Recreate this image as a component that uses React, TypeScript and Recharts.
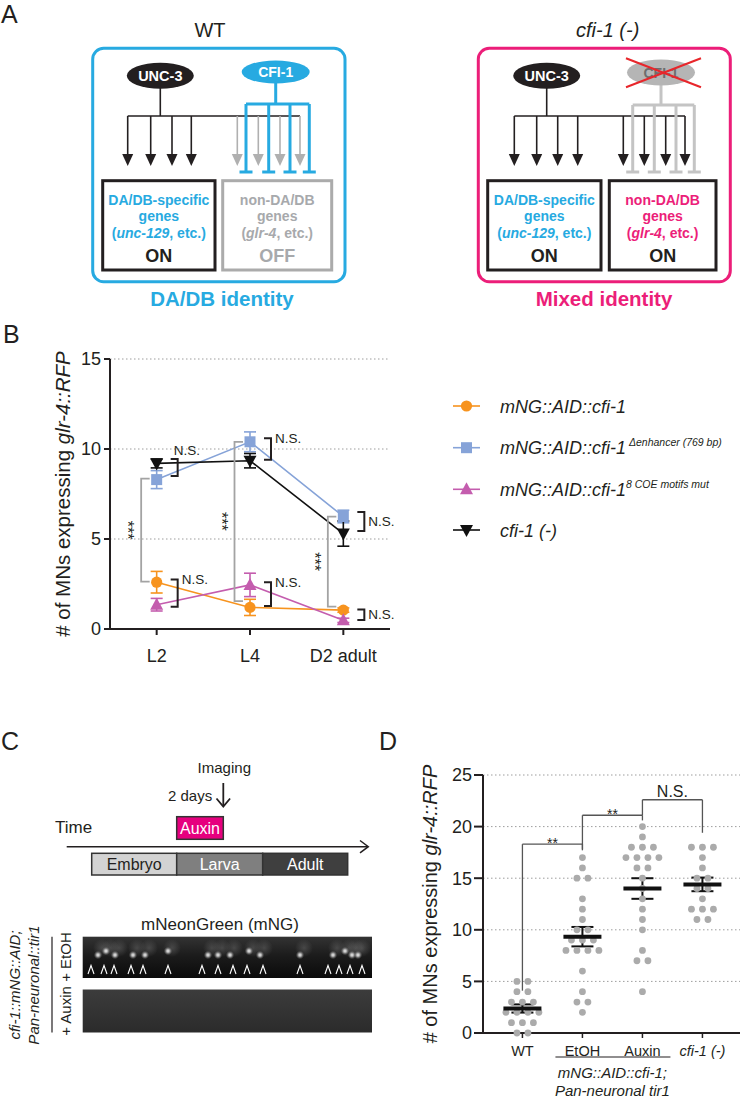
import React from 'react';
import {
  LineChart,
  Line,
  XAxis,
  YAxis,
  CartesianGrid,
  ErrorBar,
  ReferenceLine,
  Legend,
  ScatterChart,
  Scatter,
} from 'recharts';

// ---------- panel B ----------
const stages = ['L2', 'L4', 'D2 adult'];
const aidMeans = [2.6, 1.2, 1.05];
const aidSem = [0.6, 0.45, 0.12];
const enhancerMeans = [8.3, 10.4, 6.25];
const enhancerSem = [0.5, 0.55, 0.35];
const coeMeans = [1.35, 2.45, 0.48];
const coeSem = [0.35, 0.65, 0.12];
const nullMeans = [9.2, 9.35, 5.3];
const nullSem = [0.25, 0.4, 0.7];

// N.S. brackets (stage, top value, bottom value, where the label goes)
const nsStages = ['L2', 'L4', 'D2 adult', 'L2', 'L4', 'D2 adult'];
const nsTops = [9.45, 10.6, 6.5, 2.75, 2.6, 1.08];
const nsBottoms = [8.5, 9.4, 5.45, 1.24, 1.28, 0.5];
const nsPlaces = ['above', 'top', 'mid', 'top', 'top', 'mid'];
// *** brackets
const sigStages = ['L2', 'L4', 'D2 adult'];
const sigTops = [8.35, 10.4, 6.24];
const sigBottoms = [2.63, 1.55, 1.24];

// ---------- panel D ----------
const groups = ['WT', 'EtOH', 'Auxin', 'cfi-1 (-)'];
const wtCounts = [5, 5, 4, 4, 3, 3, 3, 2, 2, 2, 2, 1, 1, 1, 0, 0];
const etohCounts = [17, 16, 15, 15, 13, 12, 11, 10, 10, 9, 9, 9, 8, 8, 8, 8, 6, 4, 3, 3, 2];
const auxinCounts = [20, 19, 18, 18, 18, 17, 17, 17, 17, 16, 16, 15, 14, 13, 12, 11, 10, 8, 7, 7, 4];
const nullCounts = [18, 18, 18, 17, 16, 15, 15, 14, 14, 13, 12, 12, 12, 11, 11];
const yTicksD = [0, 5, 10, 15, 20, 25];

const cmpFrom = [0, 1, 2];
const cmpTo = [1, 2, 3];
const cmpTop = [18.3, 21.1, 22.6];
const cmpLeftEnd = [4.1, 17.8, 21.1];
const cmpRightEnd = [17.7, 20.6, 19.4];
const cmpLabels = ['**', '**', 'N.S.'];

// ---------- panel C decoration ----------
const etohSpots = [98, 106, 115, 133, 145, 168, 208, 218, 230, 249, 260, 300, 333, 345, 352, 358];
const etohArrows = [91, 104, 114, 131, 143, 168, 202, 218, 233, 247, 263, 300, 328, 339, 350, 362];

const INK = '#231F20';
const CYAN = '#27AAE1';
const PINK = '#EC1E79';
const FONT = "'Liberation Sans', Arial, Helvetica, sans-serif";

const seriesB = [
  { key: 'aid', means: aidMeans, sem: aidSem, color: '#F7931E', shape: 'circle', name: 'mNG::AID::cfi-1', sup: '' },
  { key: 'enh', means: enhancerMeans, sem: enhancerSem, color: '#86A3D8', shape: 'square', name: 'mNG::AID::cfi-1', sup: ' Δenhancer (769 bp)' },
  { key: 'coe', means: coeMeans, sem: coeSem, color: '#C45DAE', shape: 'triangle', name: 'mNG::AID::cfi-1', sup: '8 COE motifs mut' },
  { key: 'nul', means: nullMeans, sem: nullSem, color: '#111111', shape: 'down', name: 'cfi-1 (-)', sup: '' },
];

const rowsB = stages.map((stage, i) => {
  const row: any = { stage };
  seriesB.forEach((s) => {
    row[s.key] = s.means[i];
    row[s.key + 'Err'] = s.sem[i];
  });
  return row;
});

const DOT_GAP = 0.183; // spacing of tied points, in category units

function swarm(values: number[], g: number) {
  const counts = new Map<number, number>();
  values.forEach((v) => counts.set(v, (counts.get(v) || 0) + 1));
  const seen = new Map<number, number>();
  return values.map((v) => {
    const n = counts.get(v) as number;
    const k = seen.get(v) || 0;
    seen.set(v, k + 1);
    return { x: g + (k - (n - 1) / 2) * DOT_GAP, y: v };
  });
}

const groupValues = [wtCounts, etohCounts, auxinCounts, nullCounts];
const dotsD = groupValues.flatMap((vals, g) => swarm(vals, g));
const summaryD = groupValues.map((vals, g) => {
  const n = vals.length;
  const mean = vals.reduce((a, b) => a + b, 0) / n;
  const sd = Math.sqrt(vals.reduce((a, b) => a + (b - mean) ** 2, 0) / (n - 1));
  return { x: g, y: mean, sem: sd / Math.sqrt(n) };
});

function Marker({ cx, cy, shape, color }: any) {
  if (cx == null || cy == null) return null;
  if (shape === 'circle') return <circle cx={cx} cy={cy} r={5.6} fill={color} />;
  if (shape === 'square') return <rect x={cx - 5.5} y={cy - 5.5} width={11} height={11} fill={color} />;
  if (shape === 'triangle')
    return <polygon points={`${cx},${cy - 7} ${cx + 6.5},${cy + 5} ${cx - 6.5},${cy + 5}`} fill={color} />;
  return <polygon points={`${cx - 6.5},${cy - 5} ${cx + 6.5},${cy - 5} ${cx},${cy + 7}`} fill={color} />;
}

const yLabel = (dx: number, size: number) => (props: any) => {
  const vb = props.viewBox;
  const x = vb.x + dx;
  const y = vb.y + vb.height / 2;
  return (
    <text x={x} y={y} transform={`rotate(-90 ${x} ${y})`} textAnchor="middle" dominantBaseline="central" fontSize={size} fill={INK} stroke="none">
      {'# of MNs expressing '}
      <tspan fontStyle="italic">glr-4::RFP</tspan>
    </text>
  );
};

const nsBracket = (place: string) => (p: any) => {
  const x = p.x1;
  const top = Math.min(p.y1, p.y2);
  const bot = Math.max(p.y1, p.y2);
  const bx = x + 21;
  const ty = place === 'above' ? top - 4 : place === 'mid' ? (top + bot) / 2 + 4.5 : top + 4.5;
  const tx = place === 'above' ? x + 17 : bx + 4;
  return (
    <g>
      <path d={`M${x + 14},${top} H${bx} V${bot} H${x + 14}`} fill="none" stroke={INK} strokeWidth={2} />
      <text x={tx} y={ty} fontSize={13.5} fill={INK} stroke="none">
        N.S.
      </text>
    </g>
  );
};

const sigBracket = (p: any) => {
  const x = p.x1;
  const top = Math.min(p.y1, p.y2);
  const bot = Math.max(p.y1, p.y2);
  const vx = x - 15.5;
  const tx = vx - 19;
  const ty = (top + bot) / 2;
  return (
    <g>
      <path d={`M${x - 7},${top} H${vx} V${bot} H${x - 7}`} fill="none" stroke="#A3A3A3" strokeWidth={1.8} />
      <text x={tx} y={ty} transform={`rotate(90 ${tx} ${ty})`} textAnchor="middle" fontSize={16} fill={INK} stroke="none">
        ***
      </text>
    </g>
  );
};

function LegendB() {
  const ys = [18, 59.7, 101.3, 142];
  return (
    <svg width={292} height={170} style={{ display: 'block' }}>
      {seriesB.map((s, i) => (
        <g key={s.key}>
          <line x1={3} x2={30} y1={ys[i]} y2={ys[i]} stroke={s.color} strokeWidth={1.6} />
          <Marker cx={16.5} cy={ys[i]} shape={s.shape} color={s.color} />
          <text x={50} y={ys[i] + 6.5} fontSize={18} fontStyle="italic" fill={INK}>
            {s.name}
            {s.sup ? (
              <tspan fontSize={10.5} dy={-8}>
                {s.sup}
              </tspan>
            ) : null}
          </text>
        </g>
      ))}
    </svg>
  );
}

function ChartB() {
  return (
    <div style={{ position: 'absolute', left: 0, top: 330 }}>
      <LineChart width={742} height={340} data={rowsB} margin={{ top: 29, right: 352, bottom: 11, left: 50 }}>
        <CartesianGrid vertical={false} stroke="#9d9d9d" strokeDasharray="1.5 2.5" />
        <XAxis
          dataKey="stage"
          scale="band"
          interval={0}
          height={30}
          tickSize={6}
          tickMargin={14}
          axisLine={{ stroke: INK, strokeWidth: 2 }}
          tickLine={{ stroke: INK, strokeWidth: 2 }}
          tick={{ fontSize: 18, fill: INK }}
        />
        <YAxis
          domain={[0, 15]}
          ticks={[0, 5, 10, 15]}
          width={60}
          tickSize={6}
          tickMargin={3}
          axisLine={{ stroke: INK, strokeWidth: 2 }}
          tickLine={{ stroke: INK, strokeWidth: 2 }}
          tick={{ fontSize: 18, fill: INK }}
          label={yLabel(12, 20.5)}
        />
        {seriesB.map((s) => (
          <Line
            key={s.key}
            dataKey={s.key}
            stroke={s.color}
            strokeWidth={1.6}
            isAnimationActive={false}
            activeDot={false}
            dot={(p: any) => <Marker key={`${s.key}-${p.index}`} cx={p.cx} cy={p.cy} shape={s.shape} color={s.color} />}
          >
            <ErrorBar dataKey={s.key + 'Err'} direction="y" width={6} stroke={s.color} strokeWidth={1.6} />
          </Line>
        ))}
        {nsStages.map((st, i) => (
          <ReferenceLine
            key={`ns${i}`}
            segment={[
              { x: st, y: nsTops[i] },
              { x: st, y: nsBottoms[i] },
            ]}
            shape={nsBracket(nsPlaces[i])}
          />
        ))}
        {sigStages.map((st, i) => (
          <ReferenceLine
            key={`sig${i}`}
            segment={[
              { x: st, y: sigTops[i] },
              { x: st, y: sigBottoms[i] },
            ]}
            shape={sigBracket}
          />
        ))}
        <Legend
          layout="vertical"
          align="center"
          verticalAlign="middle"
          wrapperStyle={{ left: 450, top: 58, width: 292, height: 170 }}
          content={() => <LegendB />}
        />
      </LineChart>
    </div>
  );
}

const X_MIN_D = -0.657;
const X_MAX_D = 3.626;

function GroupTick(props: any) {
  const { x, y, payload } = props;
  const name = groups[payload.value];
  return (
    <text x={x} y={y} dy="0.71em" textAnchor="middle" fontSize={14.5} fill={INK} fontStyle={name.startsWith('cfi') ? 'italic' : 'normal'}>
      {name}
    </text>
  );
}

const genotypeLabel = (props: any) => {
  const vb = props.viewBox;
  const cx = vb.x + ((1.5 - X_MIN_D) / (X_MAX_D - X_MIN_D)) * vb.width;
  const ly = vb.y + vb.height;
  return (
    <g>
      <line x1={cx - 57} x2={cx + 58} y1={ly} y2={ly} stroke={INK} strokeWidth={1.2} />
      <text x={cx} y={ly + 21} textAnchor="middle" fontSize={15} fontStyle="italic" fill={INK} stroke="none">
        mNG::AID::cfi-1;
      </text>
      <text x={cx} y={ly + 39} textAnchor="middle" fontSize={15} fontStyle="italic" fill={INK} stroke="none">
        Pan-neuronal tir1
      </text>
    </g>
  );
};

const bracketText = (text: string, size: number, lift: number) => (props: any) => {
  const vb = props.viewBox;
  return (
    <text x={vb.x + vb.width / 2} y={vb.y - lift} textAnchor="middle" fontSize={size} fill={INK} stroke="none">
      {text}
    </text>
  );
};

function ChartD() {
  return (
    <div style={{ position: 'absolute', left: 380, top: 760 }}>
      <ScatterChart width={362} height={344} margin={{ top: 15, right: 2, bottom: 47, left: 40 }}>
        <CartesianGrid vertical={false} stroke="#9d9d9d" strokeDasharray="1.5 2.5" />
        <XAxis
          type="number"
          dataKey="x"
          domain={[X_MIN_D, X_MAX_D]}
          ticks={[0, 1, 2, 3]}
          interval={0}
          height={24}
          tickSize={5}
          tickMargin={8}
          axisLine={{ stroke: INK, strokeWidth: 2 }}
          tickLine={{ stroke: INK, strokeWidth: 1.5 }}
          tick={<GroupTick />}
          label={genotypeLabel}
        />
        <YAxis
          type="number"
          dataKey="y"
          domain={[0, 25]}
          ticks={yTicksD}
          width={63}
          tickSize={9}
          tickMargin={2}
          axisLine={{ stroke: INK, strokeWidth: 2 }}
          tickLine={{ stroke: INK, strokeWidth: 2 }}
          tick={{ fontSize: 18, fill: INK }}
          label={yLabel(10, 20)}
        />
        <Scatter
          data={dotsD}
          isAnimationActive={false}
          shape={(p: any) => <circle cx={p.cx} cy={p.cy} r={3.4} fill="#ABABAB" />}
        />
        <Scatter
          data={summaryD}
          isAnimationActive={false}
          shape={(p: any) => <line x1={p.cx - 19} x2={p.cx + 19} y1={p.cy} y2={p.cy} stroke="#111" strokeWidth={4} />}
        >
          <ErrorBar dataKey="sem" direction="y" width={11} stroke="#111" strokeWidth={2} />
        </Scatter>
        {cmpFrom.map((a, i) => (
          <ReferenceLine
            key={`h${i}`}
            segment={[
              { x: a, y: cmpTop[i] },
              { x: cmpTo[i], y: cmpTop[i] },
            ]}
            stroke="#555"
            strokeWidth={1.3}
            label={cmpLabels[i] === 'N.S.' ? bracketText('N.S.', 16, 3) : bracketText('**', 14, -4)}
          />
        ))}
        {cmpFrom.map((a, i) => (
          <ReferenceLine
            key={`l${i}`}
            segment={[
              { x: a, y: cmpTop[i] },
              { x: a, y: cmpLeftEnd[i] },
            ]}
            stroke="#555"
            strokeWidth={1.3}
          />
        ))}
        {cmpTo.map((b, i) => (
          <ReferenceLine
            key={`r${i}`}
            segment={[
              { x: b, y: cmpTop[i] },
              { x: b, y: cmpRightEnd[i] },
            ]}
            stroke="#555"
            strokeWidth={1.3}
          />
        ))}
      </ScatterChart>
    </div>
  );
}

function ArrowDown({ x, y1, y2, color }: any) {
  return (
    <g>
      <line x1={x} y1={y1} x2={x} y2={y2 - 8} stroke={color} strokeWidth={1.6} />
      <polygon points={`${x - 5.5},${y2 - 12} ${x + 5.5},${y2 - 12} ${x},${y2}`} fill={color} />
    </g>
  );
}

function Repressor({ x, y1, y2, color }: any) {
  return (
    <g stroke={color} strokeWidth={3} fill="none">
      <line x1={x} y1={y1} x2={x} y2={y2} />
      <line x1={x - 6.5} y1={y2} x2={x + 6.5} y2={y2} />
    </g>
  );
}

function GeneBox({ x, w, stroke, color, line1, gene, state, stateColor }: any) {
  const cx = x + w / 2;
  return (
    <g>
      <rect x={x} y={180.7} width={w} height={89.3} fill="none" stroke={stroke} strokeWidth={3} />
      <g fontSize={14} fontWeight="bold" fill={color} textAnchor="middle">
        <text x={cx} y={205}>{line1}</text>
        <text x={cx} y={221}>genes</text>
        <text x={cx} y={238}>
          (<tspan fontStyle="italic">{gene}</tspan>, etc.)
        </text>
      </g>
      <text x={cx} y={262} textAnchor="middle" fontSize={18} fontWeight="bold" fill={stateColor}>
        {state}
      </text>
    </g>
  );
}

function Diagrams() {
  const leftBlack = [127.7, 150.7, 172, 191.3];
  const leftGray = [237.3, 258.3, 280, 300];
  const leftBlue = [246, 268.7, 290, 309.3];
  const rightBlack = [514.3, 536.7, 557.7, 577.7, 623.3, 644.3, 665.7, 685];
  const rightGray = [632.7, 654.3, 676, 694.3];
  return (
    <svg width={742} height={1104} style={{ position: 'absolute', left: 0, top: 0 }}>
      <defs>
        <radialGradient id="spot">
          <stop offset="0" stopColor="#f4f4f4" stopOpacity={1} />
          <stop offset="0.4" stopColor="#cfcfcf" stopOpacity={0.75} />
          <stop offset="1" stopColor="#707070" stopOpacity={0} />
        </radialGradient>
        <radialGradient id="haze">
          <stop offset="0" stopColor="#6a6a6a" stopOpacity={0.5} />
          <stop offset="1" stopColor="#6a6a6a" stopOpacity={0} />
        </radialGradient>
        <linearGradient id="strip1" x1="0" y1="0" x2="0" y2="1">
          <stop offset="0" stopColor="#333333" />
          <stop offset="0.45" stopColor="#1c1c1c" />
          <stop offset="1" stopColor="#0a0a0a" />
        </linearGradient>
        <linearGradient id="strip2" x1="0" y1="0" x2="0" y2="1">
          <stop offset="0" stopColor="#3c3c3c" />
          <stop offset="1" stopColor="#2b2b2b" />
        </linearGradient>
      </defs>

      {/* panel letters */}
      <g fontSize={25} fill={INK}>
        <text x={1} y={23}>A</text>
        <text x={3} y={343}>B</text>
        <text x={1} y={750}>C</text>
        <text x={379} y={750}>D</text>
      </g>

      {/* A: WT */}
      <text x={210} y={37} textAnchor="middle" fontSize={20} fill={INK}>WT</text>
      <rect x={92.7} y={48.3} width={252.3} height={233.4} rx={11} fill="none" stroke={CYAN} strokeWidth={3} />
      <line x1={160.3} y1={88} x2={160.3} y2={116} stroke={INK} strokeWidth={1.6} />
      <line x1={127.7} y1={116} x2={300} y2={116} stroke={INK} strokeWidth={1.6} />
      {leftBlack.map((x) => <ArrowDown key={x} x={x} y1={116} y2={166} color={INK} />)}
      {leftGray.map((x) => <ArrowDown key={x} x={x} y1={116} y2={166} color="#B0B0B0" />)}
      <line x1={275.7} y1={82} x2={275.7} y2={104} stroke={CYAN} strokeWidth={3} />
      <line x1={246} y1={104} x2={309.3} y2={104} stroke={CYAN} strokeWidth={3} />
      {leftBlue.map((x) => <Repressor key={x} x={x} y1={104} y2={172} color={CYAN} />)}
      <ellipse cx={160.3} cy={75.7} rx={33.5} ry={13} fill={INK} />
      <text x={160.3} y={81} textAnchor="middle" fontSize={14.5} fontWeight="bold" fill="#fff">UNC-3</text>
      <ellipse cx={275.7} cy={72} rx={34} ry={11.5} fill={CYAN} />
      <text x={275.7} y={77} textAnchor="middle" fontSize={14} fontWeight="bold" fill="#fff">CFI-1</text>
      <GeneBox x={102.7} w={112.3} stroke={INK} color={CYAN} line1="DA/DB-specific" gene="unc-129" state="ON" stateColor={INK} />
      <GeneBox x={222.7} w={109} stroke="#ABABAB" color="#A7A9AC" line1="non-DA/DB" gene="glr-4" state="OFF" stateColor="#A7A9AC" />
      <text x={222} y={306} textAnchor="middle" fontSize={20.5} fontWeight="bold" fill={CYAN}>DA/DB identity</text>

      {/* A: cfi-1 (-) */}
      <text x={607.7} y={37} textAnchor="middle" fontSize={20} fontStyle="italic" fill={INK}>cfi-1 (-)</text>
      <rect x={478.3} y={48.3} width={252} height={233.4} rx={11} fill="none" stroke={PINK} strokeWidth={3} />
      <line x1={546.7} y1={88} x2={546.7} y2={116} stroke={INK} strokeWidth={1.6} />
      <line x1={514.3} y1={116} x2={685} y2={116} stroke={INK} strokeWidth={1.6} />
      <line x1={661} y1={84} x2={661} y2={105} stroke="#C4C4C4" strokeWidth={3} />
      <line x1={632.7} y1={105} x2={694.3} y2={105} stroke="#C4C4C4" strokeWidth={3} />
      {rightGray.map((x) => <Repressor key={x} x={x} y1={105} y2={172} color="#C4C4C4" />)}
      {rightBlack.map((x) => <ArrowDown key={x} x={x} y1={116} y2={166} color={INK} />)}
      <ellipse cx={546.7} cy={75.7} rx={33.5} ry={13} fill={INK} />
      <text x={546.7} y={81} textAnchor="middle" fontSize={14.5} fontWeight="bold" fill="#fff">UNC-3</text>
      <ellipse cx={661} cy={72.5} rx={34} ry={13} fill="#B5B5B5" />
      <text x={661} y={77.5} textAnchor="middle" fontSize={14} fontWeight="bold" fill="#6d6d6d">CFI-1</text>
      <line x1={626} y1={58.3} x2={701} y2={87.3} stroke="#E8262B" strokeWidth={2} />
      <line x1={626} y1={87.3} x2={701} y2={58.3} stroke="#E8262B" strokeWidth={2} />
      <GeneBox x={487.7} w={113.3} stroke={INK} color={CYAN} line1="DA/DB-specific" gene="unc-129" state="ON" stateColor={INK} />
      <GeneBox x={609.3} w={106.7} stroke={INK} color={PINK} line1="non-DA/DB" gene="glr-4" state="ON" stateColor={INK} />
      <text x={604} y={306} textAnchor="middle" fontSize={20.5} fontWeight="bold" fill={PINK}>Mixed identity</text>

      {/* C: timeline */}
      <text x={224.3} y={773} textAnchor="middle" fontSize={15} fill={INK}>Imaging</text>
      <text x={168} y={801} fontSize={15} fill={INK}>2 days</text>
      <g stroke={INK} strokeWidth={1.8} fill="none">
        <line x1={223.3} y1={783} x2={223.3} y2={806} />
        <polyline points="216.5,798.5 223.3,806.5 230.1,798.5" />
        <line x1={66.7} y1={846.7} x2={368} y2={846.7} strokeWidth={1.5} />
        <polyline points="360,840.5 368.3,846.7 360,852.9" strokeWidth={1.5} />
      </g>
      <text x={55} y={833} fontSize={17} fill={INK}>Time</text>
      <rect x={176.7} y={816.7} width={46.6} height={22.6} fill="#E6007E" stroke="#333" strokeWidth={1.5} />
      <text x={200} y={834} textAnchor="middle" fontSize={16} fill="#fff">Auxin</text>
      <g stroke="#333" strokeWidth={1.5}>
        <rect x={91.7} y={853.3} width={85} height={21.7} fill="#D3D3D3" />
        <rect x={176.7} y={853.3} width={86} height={21.7} fill="#7F7F7F" />
        <rect x={262.7} y={853.3} width={85} height={21.7} fill="#3F3F3F" />
      </g>
      <g fontSize={16} textAnchor="middle">
        <text x={134.2} y={870} fill={INK}>Embryo</text>
        <text x={219.7} y={870} fill="#fff">Larva</text>
        <text x={305.2} y={870} fill="#fff">Adult</text>
      </g>

      {/* C: images */}
      <text x={220} y={930} textAnchor="middle" fontSize={17} fill={INK}>mNeonGreen (mNG)</text>
      <rect x={82.7} y={936.7} width={289.3} height={41.3} fill="url(#strip1)" />
      {etohSpots.map((x, i) => (
        <circle key={`h${i}`} cx={x + 4} cy={948} r={9} fill="url(#haze)" />
      ))}
      {etohSpots.map((x, i) => (
        <circle key={`s${i}`} cx={x} cy={i % 4 === 1 ? 951 : 955} r={4.3} fill="url(#spot)" />
      ))}
      {etohArrows.map((x, i) => (
        <polyline key={`a${i}`} points={`${x - 3},${974} ${x},${965.5} ${x + 3},${974}`} fill="none" stroke="#fff" strokeWidth={1.1} />
      ))}
      <rect x={82.7} y={989.5} width={289.3} height={43} fill="url(#strip2)" />
      <line x1={52} y1={936.7} x2={52} y2={1032.5} stroke={INK} strokeWidth={1.2} />
      <g fontSize={15} fill={INK} textAnchor="middle">
        <text x={20} y={985} transform="rotate(-90 20 985)" fontStyle="italic">cfi-1::mNG::AID;</text>
        <text x={39} y={985} transform="rotate(-90 39 985)" fontStyle="italic">Pan-neuronal::tir1</text>
        <text x={71} y={957} transform="rotate(-90 71 957)">+ EtOH</text>
        <text x={71} y={1011} transform="rotate(-90 71 1011)">+ Auxin</text>
      </g>
    </svg>
  );
}

export default function App() {
  return (
    <div
      style={{
        position: 'absolute',
        left: 0,
        top: 0,
        width: 742,
        height: 1104,
        background: '#fff',
        fontFamily: FONT,
        overflow: 'hidden',
      }}
    >
      <Diagrams />
      <ChartB />
      <ChartD />
    </div>
  );
}
